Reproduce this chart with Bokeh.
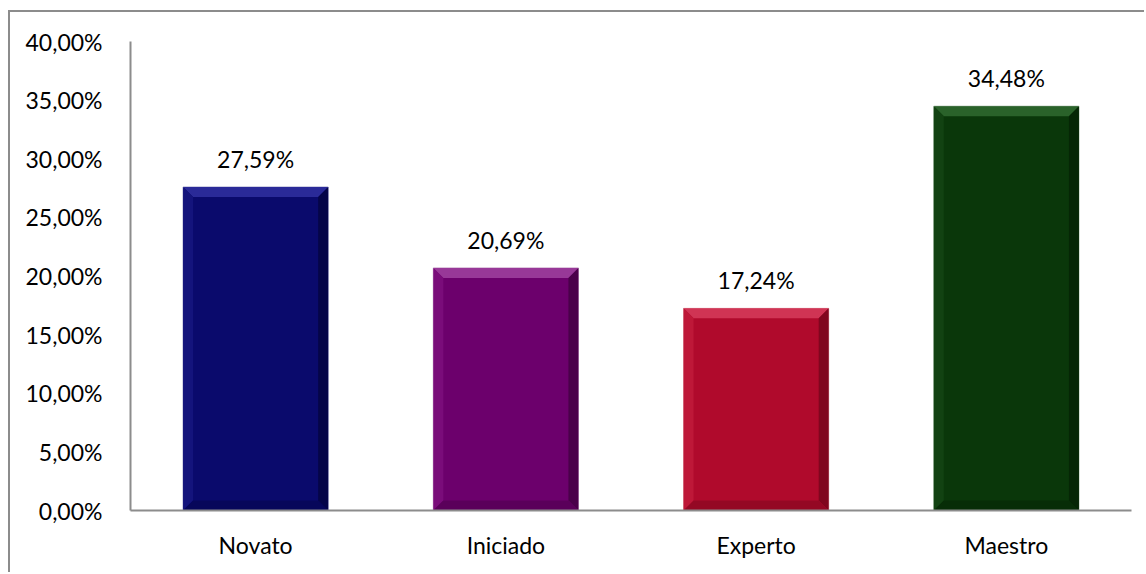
from bokeh.plotting import figure
from bokeh.models import Range1d, FixedTicker, ColumnDataSource
from bokeh.core.properties import value
from bokeh.embed import file_html
from bokeh.resources import INLINE

categories = ["Novato", "Iniciado", "Experto", "Maestro"]
values = [27.59, 20.69, 17.24, 34.48]
y_ticks = [0, 5, 10, 15, 20, 25, 30, 35, 40]
y_tick_labels = ["0,00%", "5,00%", "10,00%", "15,00%", "20,00%", "25,00%", "30,00%", "35,00%", "40,00%"]
main_colors = ["#0a0a6c", "#6c006c", "#b00a2c", "#0a370a"]
top_colors = ["#2a2a98", "#983898", "#d03454", "#2a622a"]
left_colors = ["#14147c", "#7a0c7a", "#be1838", "#124212"]
right_colors = ["#050548", "#4a004a", "#80061e", "#052605"]
bottom_colors = ["#07075a", "#5a005a", "#940824", "#072d07"]
edge_colors = ["#a0a0c8", "#c8a0c8", "#e0a0a8", "#a0b8a0"]

FONT = "Lato"
BAR_W = 0.58
BX = 0.04   # bevel width, x data units
BY = 0.85   # bevel height, y data units

p = figure(width=1136, height=562, output_backend="svg", toolbar_location=None,
           x_range=Range1d(0, 4), y_range=Range1d(0, 40),
           min_border_left=120, min_border_right=15, min_border_top=29, min_border_bottom=64)
p.styles = {"border-top": "2px solid #8c8c8c", "border-left": "2px solid #8c8c8c",
            "margin-top": "10px", "margin-left": "8px"}
p.outline_line_color = None
p.xgrid.visible = False
p.ygrid.visible = False
p.background_fill_color = "white"
p.border_fill_color = "white"

xc = [i + 0.5 for i in range(len(categories))]
x0 = [c - BAR_W / 2 for c in xc]
x1 = [c + BAR_W / 2 for c in xc]

src = ColumnDataSource(dict(x0=x0, x1=x1, top=values, bottom=[0] * len(values),
                            fill=main_colors, edge=edge_colors))
p.quad(left="x0", right="x1", top="top", bottom="bottom", source=src,
       fill_color="fill", line_color="edge", line_width=1)

txs, tys, tcs = [], [], []
for a, b, v, tc, lc, rc, bc in zip(x0, x1, values, top_colors, left_colors, right_colors, bottom_colors):
    txs.append([a, b, b - BX, a + BX]); tys.append([v, v, v - BY, v - BY]); tcs.append(tc)
    txs.append([a, a + BX, a + BX, a]); tys.append([v, v - BY, BY, 0]); tcs.append(lc)
    txs.append([b, b - BX, b - BX, b]); tys.append([v, v - BY, BY, 0]); tcs.append(rc)
    txs.append([a, a + BX, b - BX, b]); tys.append([0, BY, BY, 0]); tcs.append(bc)
p.patches(xs=txs, ys=tys, fill_color=tcs, line_color=None)

labels = [f"{v:.2f}".replace(".", ",") + "%" for v in values]
p.text(x=xc, y=values, text=labels, text_font=value(FONT), text_font_size="23px",
       text_align="center", text_baseline="alphabetic", y_offset=-28, text_color="#000000")

p.yaxis.ticker = FixedTicker(ticks=y_ticks)
p.yaxis.major_label_overrides = {t: l for t, l in zip(y_ticks, y_tick_labels)}
p.xaxis.ticker = FixedTicker(ticks=xc)
p.xaxis.major_label_overrides = {c: n for c, n in zip(xc, categories)}
for ax in (p.xaxis, p.yaxis):
    ax.axis_line_color = "#8c8c8c"
    ax.axis_line_width = 2
    ax.major_tick_line_color = None
    ax.minor_tick_line_color = None
    ax.major_label_text_font = FONT
    ax.major_label_text_font_size = "23px"
    ax.major_label_text_color = "#000000"
p.yaxis.major_label_standoff = 22
p.xaxis.major_label_standoff = 14

open("out.html", "w").write(file_html(p, INLINE))
